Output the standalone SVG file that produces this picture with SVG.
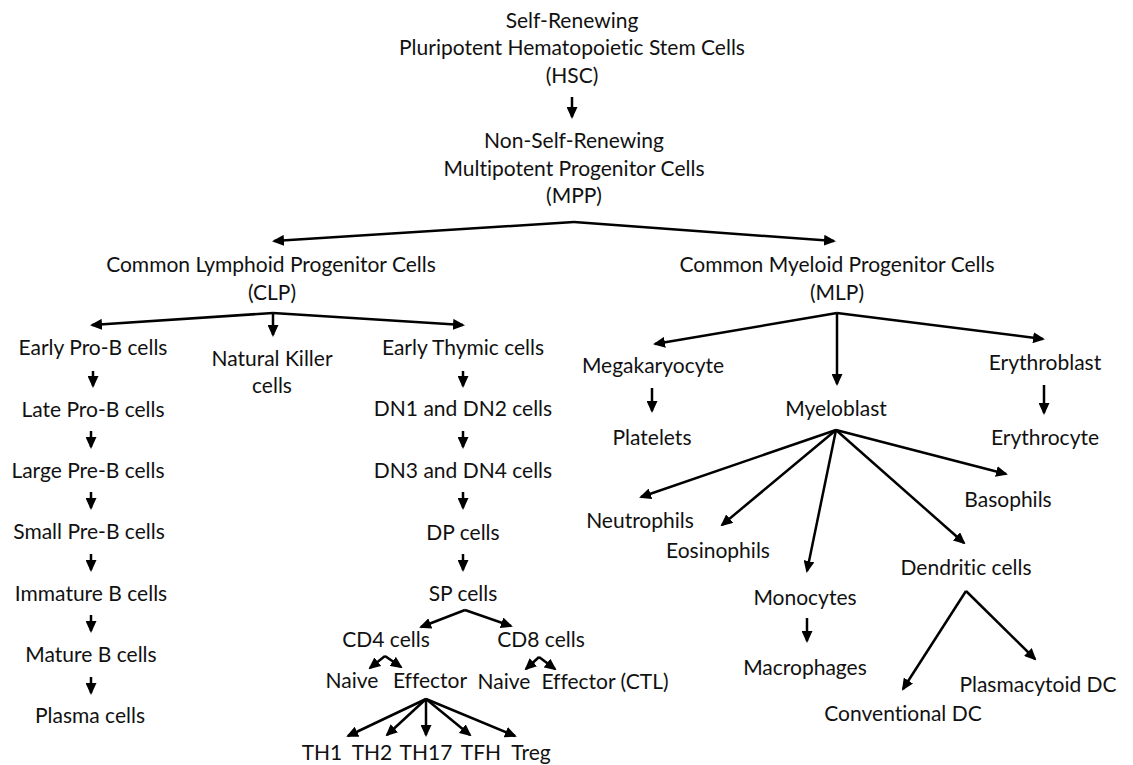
<svg xmlns="http://www.w3.org/2000/svg" width="1133" height="765" viewBox="0 0 1133 765">
<style>
text{font-family:Lato,"Liberation Sans",sans-serif;font-size:21px;fill:#111;text-anchor:middle;font-variant-ligatures:none;font-feature-settings:"liga" 0}
.c line{stroke:#000;stroke-width:2.5;marker-end:url(#ah)}
</style>
<defs>
<marker id="ah" markerUnits="userSpaceOnUse" markerWidth="12" markerHeight="11" viewBox="0 0 12 11" refX="10" refY="5.5" orient="auto">
<path d="M0,0 L12,5.5 L0,11 z" fill="#000"/>
</marker>
</defs>
<rect width="1133" height="765" fill="#fff"/>
<g id="hsc"><text x="572" y="28">Self-Renewing</text><text x="572" y="55">Pluripotent Hematopoietic Stem Cells</text><text x="572" y="83">(HSC)</text></g>
<g id="mpp"><text x="574" y="148">Non-Self-Renewing</text><text x="574" y="176">Multipotent Progenitor Cells</text><text x="574" y="203">(MPP)</text></g>
<g id="clp"><text x="271" y="272">Common Lymphoid Progenitor Cells</text><text x="272" y="300">(CLP)</text></g>
<g id="cmp"><text x="837" y="272">Common Myeloid Progenitor Cells</text><text x="837" y="300">(MLP)</text></g>
<g id="earlyProB"><text x="93" y="355">Early Pro-B cells</text></g>
<g id="lateProB"><text x="93" y="417">Late Pro-B cells</text></g>
<g id="largePreB"><text x="88" y="478">Large Pre-B cells</text></g>
<g id="smallPreB"><text x="89" y="539">Small Pre-B cells</text></g>
<g id="immatureB"><text x="91" y="601">Immature B cells</text></g>
<g id="matureB"><text x="91" y="662">Mature B cells</text></g>
<g id="plasma"><text x="90" y="723">Plasma cells</text></g>
<g id="nk"><text x="272" y="366">Natural Killer</text><text x="272" y="393">cells</text></g>
<g id="earlyThymic"><text x="463" y="355">Early Thymic cells</text></g>
<g id="dn12"><text x="463" y="416">DN1 and DN2 cells</text></g>
<g id="dn34"><text x="463" y="478">DN3 and DN4 cells</text></g>
<g id="dp"><text x="463" y="540">DP cells</text></g>
<g id="sp"><text x="463" y="601">SP cells</text></g>
<g id="cd4"><text x="386" y="647">CD4 cells</text></g>
<g id="cd8"><text x="541" y="647">CD8 cells</text></g>
<g id="naive4"><text x="352" y="688">Naive</text></g>
<g id="effector4"><text x="430" y="688">Effector</text></g>
<g id="naive8"><text x="504" y="689">Naive</text></g>
<g id="ctl"><text x="605" y="689">Effector (CTL)</text></g>
<g id="th1"><text x="322" y="760">TH1</text></g>
<g id="th2"><text x="372" y="760">TH2</text></g>
<g id="th17"><text x="426" y="760">TH17</text></g>
<g id="tfh"><text x="481" y="760">TFH</text></g>
<g id="treg"><text x="531" y="760">Treg</text></g>
<g id="megakaryocyte"><text x="653" y="373">Megakaryocyte</text></g>
<g id="platelets"><text x="652" y="445">Platelets</text></g>
<g id="myeloblast"><text x="836" y="416">Myeloblast</text></g>
<g id="erythroblast"><text x="1045" y="370">Erythroblast</text></g>
<g id="erythrocyte"><text x="1045" y="445">Erythrocyte</text></g>
<g id="neutrophils"><text x="640" y="528">Neutrophils</text></g>
<g id="eosinophils"><text x="718" y="558">Eosinophils</text></g>
<g id="monocytes"><text x="805" y="605">Monocytes</text></g>
<g id="macrophages"><text x="805" y="675">Macrophages</text></g>
<g id="dendritic"><text x="966" y="575">Dendritic cells</text></g>
<g id="basophils"><text x="1008" y="507">Basophils</text></g>
<g id="conventionalDC"><text x="903" y="721">Conventional DC</text></g>
<g id="plasmacytoidDC"><text x="1038" y="692">Plasmacytoid DC</text></g>
<g id="connectors" class="c">
<line x1="572" y1="97" x2="572" y2="117"/>
<line x1="574" y1="222" x2="274" y2="241"/>
<line x1="574" y1="222" x2="834" y2="241"/>
<line x1="273" y1="313" x2="92" y2="325"/>
<line x1="273" y1="313" x2="273" y2="335"/>
<line x1="273" y1="313" x2="463" y2="325"/>
<line x1="93" y1="371" x2="93" y2="386"/>
<line x1="91" y1="431" x2="91" y2="447"/>
<line x1="91" y1="492" x2="91" y2="508"/>
<line x1="91" y1="554" x2="91" y2="570"/>
<line x1="91" y1="615" x2="91" y2="631"/>
<line x1="91" y1="677" x2="91" y2="693"/>
<line x1="463" y1="371" x2="463" y2="386"/>
<line x1="463" y1="431" x2="463" y2="447"/>
<line x1="463" y1="492" x2="463" y2="508"/>
<line x1="463" y1="554" x2="463" y2="570"/>
<line x1="465" y1="610" x2="421" y2="627"/>
<line x1="465" y1="610" x2="511" y2="626"/>
<line x1="385" y1="656" x2="370" y2="668"/>
<line x1="385" y1="656" x2="401" y2="667"/>
<line x1="539" y1="657" x2="526" y2="669"/>
<line x1="539" y1="657" x2="555" y2="669"/>
<line x1="426" y1="699" x2="348" y2="736"/>
<line x1="426" y1="699" x2="387" y2="735"/>
<line x1="426" y1="699" x2="426" y2="735"/>
<line x1="426" y1="699" x2="470" y2="735"/>
<line x1="426" y1="699" x2="515" y2="736"/>
<line x1="837" y1="313" x2="655" y2="344"/>
<line x1="837" y1="313" x2="837" y2="384"/>
<line x1="837" y1="313" x2="1043" y2="339"/>
<line x1="652" y1="388" x2="652" y2="411"/>
<line x1="1044" y1="385" x2="1044" y2="413"/>
<line x1="836" y1="430" x2="641" y2="497"/>
<line x1="836" y1="430" x2="722" y2="525"/>
<line x1="836" y1="430" x2="807" y2="571"/>
<line x1="836" y1="430" x2="964" y2="543"/>
<line x1="836" y1="430" x2="1006" y2="474"/>
<line x1="807" y1="618" x2="807" y2="641"/>
<line x1="966" y1="591" x2="903" y2="689"/>
<line x1="966" y1="591" x2="1035" y2="659"/>
</g>
</svg>
